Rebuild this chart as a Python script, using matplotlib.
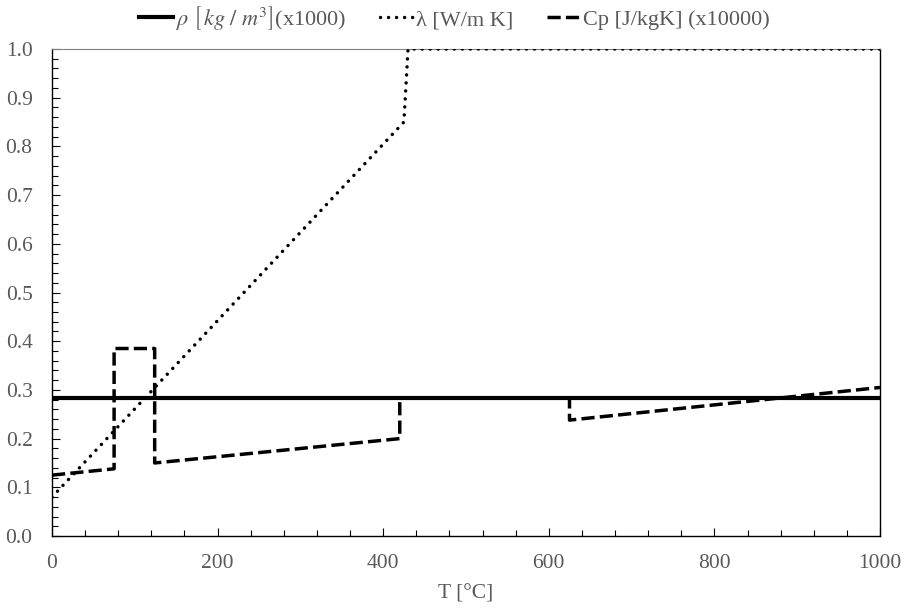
import matplotlib
matplotlib.use("Agg")
import matplotlib.pyplot as plt
from matplotlib.ticker import MultipleLocator, FormatStrFormatter

plt.rcParams['font.family'] = ['Liberation Serif', 'DejaVu Serif']
plt.rcParams['mathtext.fontset'] = 'stix'

# density (x1000), constant
rho_T = [0, 1000]
rho_val = [0.283, 0.283]

# thermal conductivity
lam_T = [0, 425, 430, 1000]
lam_val = [0.08, 0.85, 1.0, 1.0]

# specific heat (x10000)
cp_T = [0, 75, 75, 124, 124, 420, 420, 625, 625, 1000]
cp_val = [0.125, 0.138, 0.385, 0.385, 0.150, 0.200, 0.283, 0.283, 0.238, 0.305]

labels = [r'$\rho\ \left[\, kg\ /\ m^3 \right]$(x1000)',
          u'\u03bb [W/m K]',
          'Cp [J/kgK] (x10000)']

fig = plt.figure(figsize=(9.06, 6.08), dpi=100)
ax = fig.add_axes([0.0574, 0.1184, 0.9139, 0.801])

h1, = ax.plot(rho_T, rho_val, color='black', lw=3.0, zorder=4, label=labels[0])
h2, = ax.plot(lam_T, lam_val, color='black', lw=2.5, linestyle=(0, (0.01, 2.3)),
              dash_capstyle='round', zorder=3, label=labels[1])
h3, = ax.plot(cp_T, cp_val, color='black', lw=2.5, linestyle=(0, (3.8, 1.5)),
              zorder=3, label=labels[2])

ax.set_xlim(0, 1000)
ax.set_ylim(0, 1.0)
ax.xaxis.set_major_locator(MultipleLocator(200))
ax.xaxis.set_minor_locator(MultipleLocator(40))
ax.yaxis.set_major_locator(MultipleLocator(0.1))
ax.yaxis.set_minor_locator(MultipleLocator(0.02))
ax.yaxis.set_major_formatter(FormatStrFormatter('%.1f'))

ax.tick_params(which='both', direction='in', colors='black', labelcolor='#595959',
               labelsize=15.5)
ax.tick_params(which='major', length=6, width=0.8)
ax.tick_params(which='minor', length=4, width=0.8)
ax.tick_params(axis='x', pad=13)
ax.tick_params(axis='y', pad=14)

for s in ['left', 'bottom', 'right']:
    ax.spines[s].set_color('black')
    ax.spines[s].set_linewidth(1.0)
ax.spines['top'].set_color('#808080')

ax.set_xlabel(u'T [\u00b0C]', fontsize=15.5, color='#595959', labelpad=8)

fig.legend(handles=[h1, h2, h3], loc='center', bbox_to_anchor=(0.502, 0.97),
           ncol=3, frameon=False, fontsize=16, handlelength=1.5,
           handletextpad=0.15, columnspacing=1.5, labelcolor='#595959')

fig.savefig('out.png', dpi=100)
